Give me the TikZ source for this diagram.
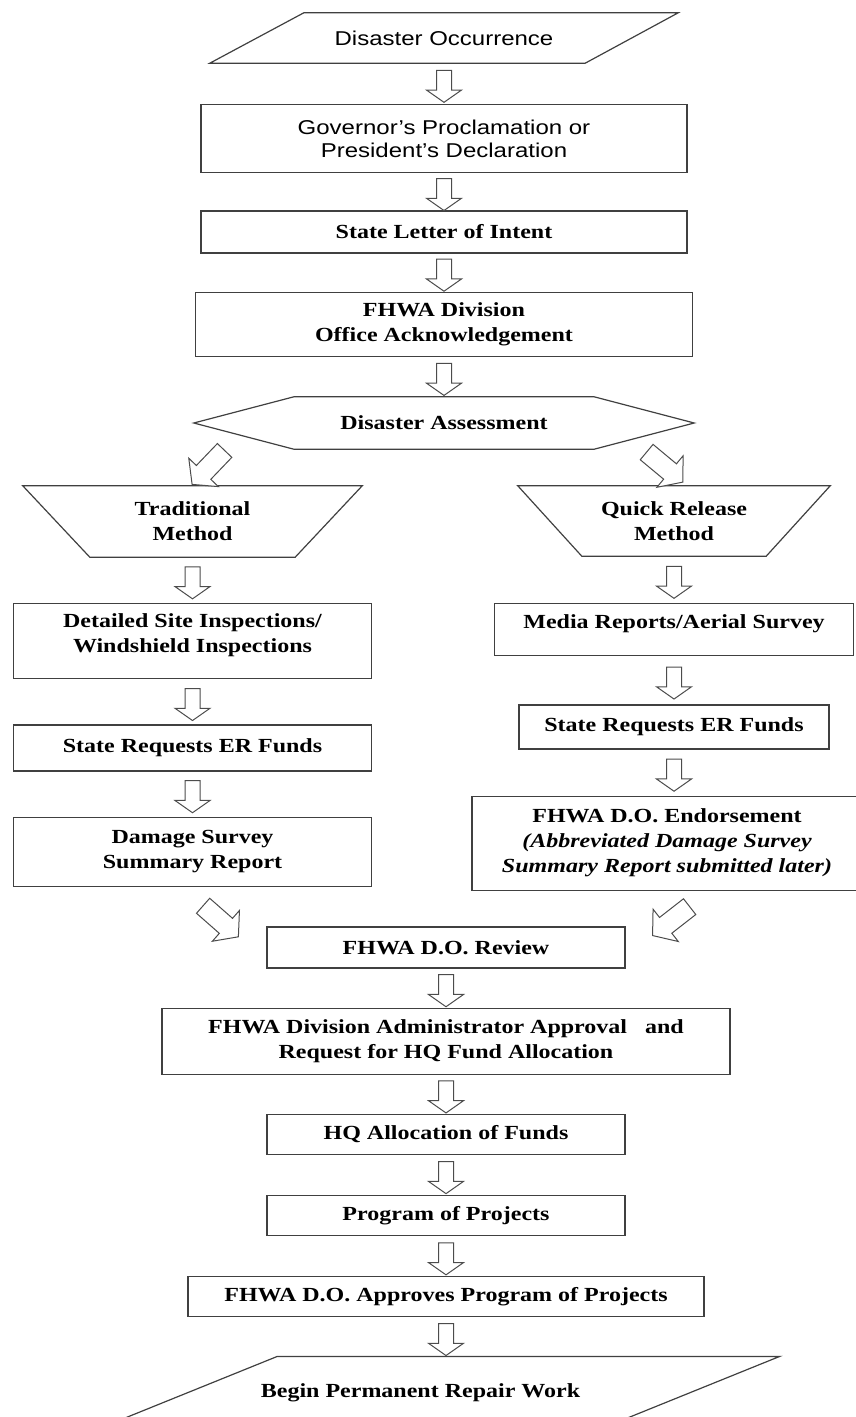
\documentclass[tikz,border=0pt]{standalone}
\usepackage{fontspec}
\setmainfont{Liberation Serif}[FakeStretch=1.2]
\setsansfont{Liberation Sans}[FakeStretch=1.2]
\usepackage{tikz}
\usetikzlibrary{positioning, calc, shapes.arrows}

\tikzset{
	Hollow/.style = {single arrow, draw = black!70, fill = white, line width = 1pt,
		inner xsep = 0pt, inner ysep = 7pt, minimum height = 32pt, minimum width = 34pt,
		single arrow head extend = 10pt, single arrow tip angle = 110},
	BigHollow/.style = {Hollow, inner ysep = 9.5pt, minimum height = 47pt, minimum width = 40pt,
		single arrow head extend = 10.5pt, single arrow tip angle = 102},
	Flow/.style = {
		to path = {
			let \p1 = (\tikztostart), \p2 = (\tikztotarget),
				\n1 = {atan2(\y2 - \y1, \x2 - \x1)} in
			node [#1, rotate = \n1] at ($(\p1)!0.5!(\p2)$) {}
			}
		},
	Flow/.default = Hollow
}

\begin{document}
\begin{tikzpicture}[
	x = 1pt, y = -1pt,
	every node/.style = {font = \fontsize{20}{25}\selectfont\bfseries},
	Box/.style = {rectangle, draw = black!75, line width = 1.2pt, align = center},
	Shape/.style = {rectangle, align = center},
	Sans/.style = {font = \fontsize{20}{23}\selectfont\sffamily},
	Outline/.style = {draw = black!75, line width = 1.2pt}
]
\useasboundingbox (0,0) rectangle (856,1417);

% top of the chart
\node [Shape, Sans, minimum width = 468pt, minimum height = 50pt] (occ) at (444,38) {Disaster Occurrence};
\node [Box, Sans, minimum width = 486pt, minimum height = 68pt, below = 41pt of occ] (gov) {Governor's Proclamation or\\President's Declaration};
\node [Box, minimum width = 486pt, minimum height = 42pt, below = 37pt of gov] (intent) {State Letter of Intent};
\node [Box, minimum width = 497pt, minimum height = 64pt, below = 38pt of intent] (div) {FHWA Division\\Office Acknowledgement};
\node [Shape, minimum width = 500pt, minimum height = 52pt, below = 40pt of div] (assess) {Disaster Assessment};

% traditional method
\node [Shape, minimum width = 339pt, minimum height = 71pt] (trad) at (192.5,521.5) {Traditional\\Method};
\node [Box, minimum width = 358pt, minimum height = 75pt, text depth = 16pt, below = 46pt of trad] (detail) {Detailed Site Inspections/\\Windshield Inspections};
\node [Box, minimum width = 358pt, minimum height = 46pt, below = 45pt of detail] (reqleft) {State Requests ER Funds};
\node [Box, minimum width = 358pt, minimum height = 69pt, below = 45pt of reqleft] (damage) {Damage Survey\\Summary Report};

% quick release method
\node [Shape, minimum width = 312pt, minimum height = 70pt] (quick) at (674,521) {Quick Release\\Method};
\node [Box, minimum width = 359pt, minimum height = 52pt, text depth = 17pt, below = 47pt of quick] (media) {Media Reports/Aerial Survey};
\node [Box, minimum width = 310pt, minimum height = 44pt, below = 48pt of media] (reqright) {State Requests ER Funds};
\node [Box, minimum width = 390pt, minimum height = 94pt, below = 46pt of reqright, xshift = -7pt] (endorse) {FHWA D.O. Endorsement\\\itshape(Abbreviated Damage Survey\\\itshape Summary Report submitted later)};

% bottom of the chart
\node [Box, minimum width = 358pt, minimum height = 41pt] (review) at (446,947.5) {FHWA D.O. Review};
\node [Box, minimum width = 568pt, minimum height = 66pt, below = 39pt of review] (admin) {FHWA Division Administrator Approval\ \ \ and\\Request for HQ Fund Allocation};
\node [Box, minimum width = 358pt, minimum height = 40pt, below = 39pt of admin] (hq) {HQ Allocation of Funds};
\node [Box, minimum width = 358pt, minimum height = 40pt, below = 40pt of hq] (program) {Program of Projects};
\node [Box, minimum width = 516pt, minimum height = 40pt, below = 40pt of program] (approve) {FHWA D.O. Approves Program of Projects};
\node [Shape, minimum width = 681pt, minimum height = 72pt, below = 39pt of approve, xshift = -25.5pt] (begin) {Begin Permanent Repair Work};

% outlines of the shaped nodes
\draw [Outline] ([xshift = 94pt]occ.north west) -- (occ.north east) -- ([xshift = -93pt]occ.south east) -- (occ.south west) -- cycle;
\draw [Outline] (assess.west) -- ([xshift = 100pt]assess.north west) -- ([xshift = -100pt]assess.north east) -- (assess.east)
	-- ([xshift = -100pt]assess.south east) -- ([xshift = 100pt]assess.south west) -- cycle;
\draw [Outline] (trad.north west) -- (trad.north east) -- ([xshift = -67pt]trad.south east) -- ([xshift = 67pt]trad.south west) -- cycle;
\draw [Outline] (quick.north west) -- (quick.north east) -- ([xshift = -64pt]quick.south east) -- ([xshift = 64pt]quick.south west) -- cycle;
\draw [Outline] ([xshift = 197.5pt]begin.north west) -- ([xshift = 18.5pt]begin.north east) -- ([xshift = -160.5pt]begin.south east) -- ([xshift = 18.5pt]begin.south west) -- cycle;

% block arrows
\path (occ.south) to [Flow] (gov.north);
\path (gov.south) to [Flow] (intent.north);
\path (intent.south) to [Flow] (div.north);
\path (div.south) to [Flow] (assess.north);

\path ([xshift = 32pt]assess.south west) to [Flow = BigHollow] ([xshift = 4pt, yshift = 6pt]trad.north);
\path ([xshift = -51pt]assess.south east) to [Flow = BigHollow] ([xshift = 6pt, yshift = 6pt]quick.north);

\path (trad.south) to [Flow] (detail.north);
\path (detail.south) to [Flow] (reqleft.north);
\path (reqleft.south) to [Flow] (damage.north);

\path (quick.south) to [Flow] (media.north);
\path (media.south) to [Flow] (reqright.north);
\path (reqright.south) to [Flow] (reqright.south |- endorse.north);

\path ([xshift = 9.5pt, yshift = -18pt]damage.south) to [Flow = BigHollow] ([xshift = -33pt, yshift = -6pt]review.north west);
\path ([xshift = 25pt, yshift = -14pt]endorse.south) to [Flow = BigHollow] ([xshift = 31pt, yshift = -6pt]review.north east);

\path (review.south) to [Flow] (admin.north);
\path (admin.south) to [Flow] (hq.north);
\path (hq.south) to [Flow] (program.north);
\path (program.south) to [Flow] (approve.north);
\path (approve.south) to [Flow] (approve.south |- begin.north);

\end{tikzpicture}
\end{document}
